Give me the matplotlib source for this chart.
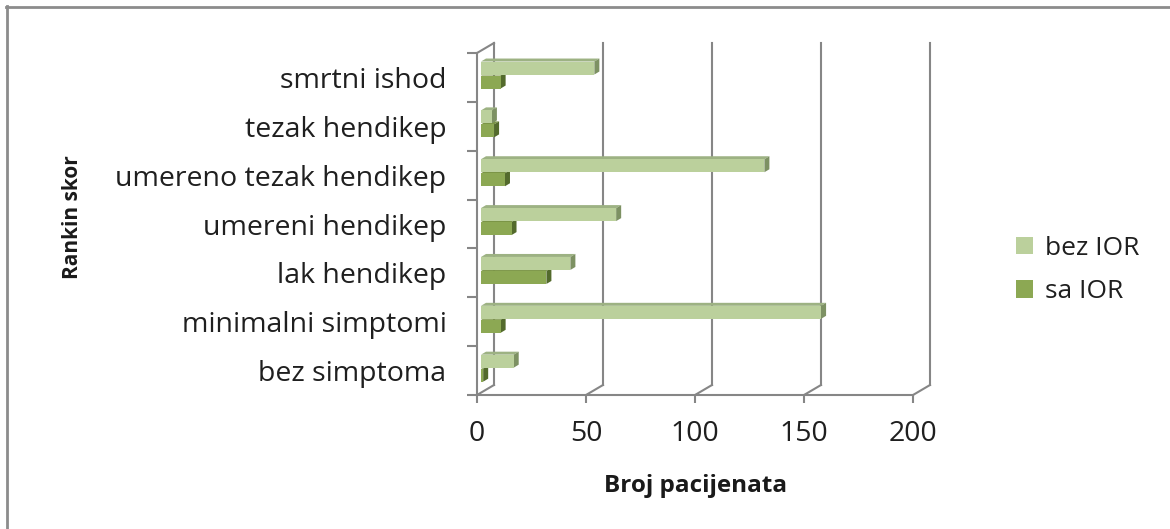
import matplotlib
matplotlib.use("Agg")
import matplotlib.pyplot as plt
from matplotlib.patches import Patch, Polygon
from matplotlib.lines import Line2D

# Data (Rankin score, number of patients)
categories = ["bez simptoma", "minimalni simptomi", "lak hendikep", "umereni hendikep",
              "umereno tezak hendikep", "tezak hendikep", "smrtni ishod"]
bez_ior = [15, 156, 41, 62, 130, 5, 52]
sa_ior = [1, 9, 30, 14, 11, 6, 9]
x_ticks = [0, 50, 100, 150, 200]

W, H = 1170, 529
fig = plt.figure(figsize=(W / 100, H / 100), dpi=100)

# front plane of the pseudo-3D plot area (pixels)
x0, x1, ytop, ybot = 477, 913, 53, 395
ax = fig.add_axes([x0 / W, 1 - ybot / H, (x1 - x0) / W, (ybot - ytop) / H])
ax.set_xlim(0, 200)
ax.set_ylim(-0.5, 6.5)
ax.set_facecolor("none")

pxx = (x1 - x0) / 200.0          # pixels per x unit
pxy = (ybot - ytop) / 7.0        # pixels per category
ddx, ddy = 17 / pxx, 10 / pxy    # wall depth in data units

grey = "#868686"
lw = 1.5

for s in ["top", "right"]:
    ax.spines[s].set_visible(False)
for s in ["left", "bottom"]:
    ax.spines[s].set_color(grey)
    ax.spines[s].set_linewidth(lw)

# back wall gridlines and floor diagonals
for t in x_ticks:
    ax.plot([t + ddx, t + ddx], [-0.5 + ddy, 6.5 + ddy], color=grey, lw=lw, zorder=1, clip_on=False)
    ax.plot([t, t + ddx], [-0.5, -0.5 + ddy], color=grey, lw=lw, zorder=1, clip_on=False)
ax.plot([0, ddx], [6.5, 6.5 + ddy], color=grey, lw=lw, zorder=1, clip_on=False)

# bars with top and side faces
bh = 13 / pxy
bx, by = 4 / pxx, 2.4 / pxy       # bar front face offset into depth
sx, sy = 5 / pxx, 3 / pxy         # bar own depth
series = [
    (sa_ior, -0.5 * bh - 0.5 / pxy, "#8CA853", "#7B9546", "#536A2C"),
    (bez_ior, 0.5 * bh + 0.5 / pxy, "#BBD09C", "#9DB283", "#7D9163"),
]
for vals, off, cf, ct, cs in series:
    for i, v in enumerate(vals):
        yc = i + off + by
        ya, yb = yc - bh / 2, yc + bh / 2
        xa, xb = bx, v + bx
        ax.add_patch(Polygon([(xa, yb), (xb, yb), (xb + sx, yb + sy), (xa + sx, yb + sy)],
                             closed=True, fc=ct, ec="none", zorder=3, clip_on=False))
        ax.add_patch(Polygon([(xb, ya), (xb, yb), (xb + sx, yb + sy), (xb + sx, ya + sy)],
                             closed=True, fc=cs, ec="none", zorder=3, clip_on=False))
        ax.add_patch(Polygon([(xa, ya), (xb, ya), (xb, yb), (xa, yb)],
                             closed=True, fc=cf, ec="none", zorder=4, clip_on=False))

# ticks
lab_font = "Open Sans"
ax.set_yticks(range(7))
ax.set_yticklabels(categories, fontsize=20.5, family=lab_font, color="#1f1f1f")
ax.set_yticks([i - 0.5 for i in range(8)], minor=True)
ax.tick_params(axis="y", which="major", length=0, pad=22)
ax.tick_params(axis="y", which="minor", length=7.5, width=lw, color=grey, direction="out")
ax.set_xticks(x_ticks)
ax.set_xticklabels([str(t) for t in x_ticks], fontsize=20.5, family=lab_font, color="#1f1f1f")
ax.tick_params(axis="x", which="major", length=6, width=lw, color=grey, direction="out", pad=12)

fig.text(696 / W, 1 - 486 / H, "Broj pacijenata", fontsize=17.5, family=lab_font, weight="bold",
         ha="center", va="center", color="#1a1a1a")
fig.text(72 / W, 1 - 217 / H, "Rankin skor", fontsize=15, family=lab_font, weight="bold",
         ha="center", va="center", rotation=90, color="#1a1a1a")

handles = [Patch(fc="#BBD09C", ec="none"), Patch(fc="#8CA853", ec="none")]
fig.legend(handles, ["bez IOR", "sa IOR"], loc="center left", bbox_to_anchor=(992 / W, 1 - 270 / H),
           frameon=False, prop={"family": lab_font, "size": 19}, handlelength=0.65, handleheight=0.65,
           handletextpad=0.45, labelspacing=0.7, labelcolor="#1f1f1f")

# outer border
fig.add_artist(Line2D([6 / W, 1], [1 - 6.5 / H, 1 - 6.5 / H], color="#8C8C8C", lw=2, transform=fig.transFigure))
fig.add_artist(Line2D([6.5 / W, 6.5 / W], [0, 1 - 6 / H], color="#8C8C8C", lw=2, transform=fig.transFigure))

fig.savefig("out.png", dpi=100)
